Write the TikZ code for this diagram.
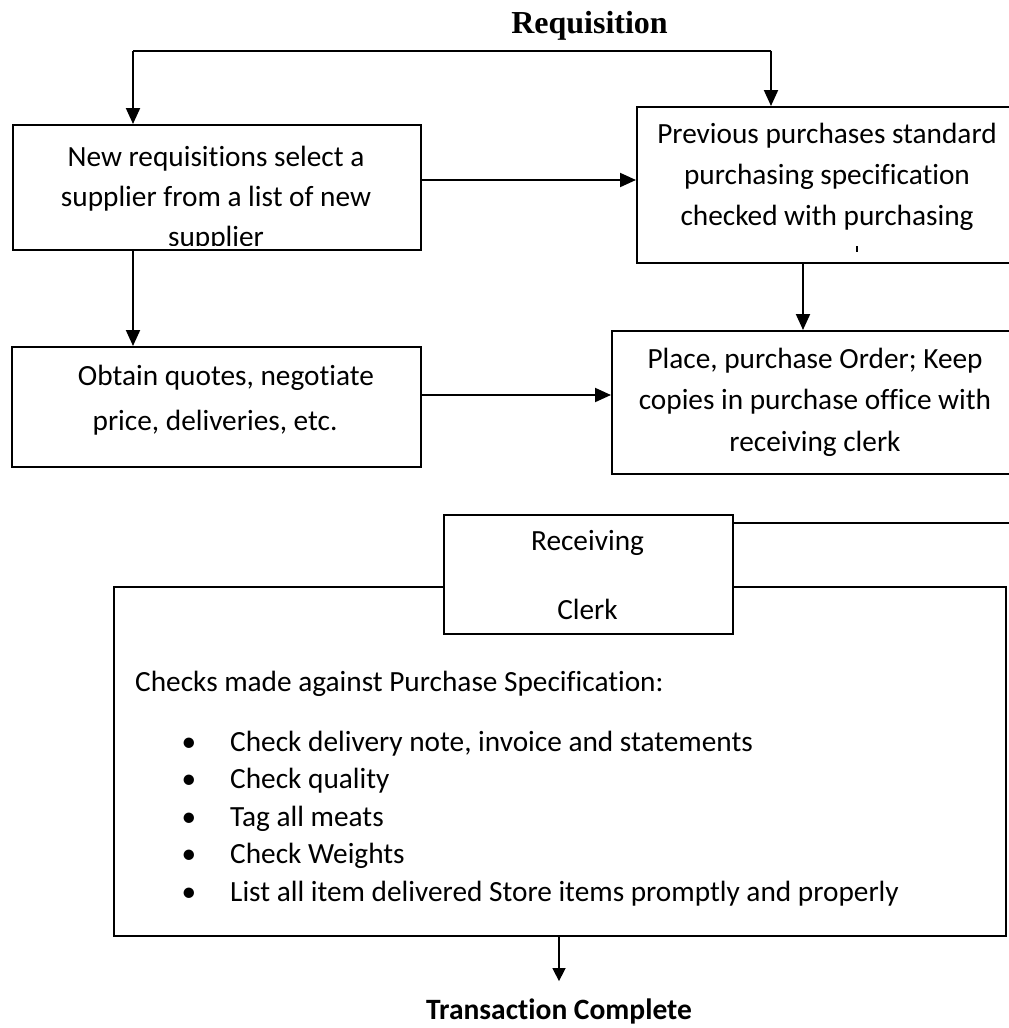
\documentclass[tikz,border=0pt]{standalone}
\usepackage{fontspec}
\setmainfont{Carlito}[Ligatures={TeX,NoCommon}]
\newfontfamily\titlefont{Liberation Serif}
\usetikzlibrary{arrows.meta,calc}
\begin{document}
\begin{tikzpicture}[x=1pt,y=-1pt,
  box/.style={draw,line width=2pt,anchor=north west,inner sep=0pt,fill=white},
  txt/.style={font=\fontsize{29.3}{35}\selectfont,anchor=base,inner sep=0pt},
  bld/.style={font=\bfseries\fontsize{29.5}{35}\selectfont,anchor=base,inner sep=0pt},
  arr/.style={line width=2pt,-{Triangle[width=14pt,length=16pt]}},
  ln/.style={line width=2pt}]
\useasboundingbox (0,0) rectangle (1009,1028);
\clip (0,0) rectangle (1009,1028);

% title and top split
\node[font=\titlefont\bfseries\fontsize{32}{38}\selectfont,anchor=base,inner sep=0pt] (title) at (589.5,33) {Requisition};
\coordinate (tl) at (133,50.5);
\coordinate (tr) at (771,50.5);

% boxes
\node[box,minimum width=408.5pt,minimum height=125pt] (b1) at (11.5,124) {};
\node[box,minimum width=383pt,minimum height=156pt] (b2) at (636,106) {};
\node[box,minimum width=409pt,minimum height=120pt] (b3) at (11,346) {};
\node[box,minimum width=408pt,minimum height=143pt] (b4) at (611,330) {};
\node[box,minimum width=892pt,minimum height=349pt] (big) at (113,586) {};
\node[box,line width=1.5pt,minimum width=289pt,minimum height=119pt] (rc) at (443,514) {};

% box texts
\begin{scope}
\clip (b1.north west) rectangle ([yshift=6pt]b1.south east);
\node[txt] (b1a) at (216,166) {New requisitions select a};
\node[txt] (b1b) at (216,206) {supplier from a list of new};
\node[txt] (b1c) at (216,246) {supplier};
\end{scope}

\node[txt] (b2a) at (827,143) {Previous purchases standard};
\node[txt] (b2b) at (827,184) {purchasing specification};
\node[txt] (b2c) at (827,225) {checked with purchasing};
\draw[line width=1.6pt] (857,246) -- (857,251.5);

\node[txt] (b3a) at (226,385) {Obtain quotes, negotiate};
\node[txt] (b3b) at (215,430) {price, deliveries, etc.};

\node[txt] (b4a) at (815,368) {Place, purchase Order; Keep};
\node[txt] (b4b) at (815,409) {copies in purchase office with};
\node[txt] (b4c) at (815,451) {receiving clerk};

\node[txt] (rca) at (587.5,550) {Receiving};
\node[txt] (rcb) at (587.5,619) {Clerk};

\node[txt,anchor=base west] (chk) at (135,691) {Checks made against Purchase Specification:};
\node[txt] (u1) at (189,751) {•};
\node[txt] (u2) at (189,788) {•};
\node[txt] (u3) at (189,826) {•};
\node[txt] (u4) at (189,863) {•};
\node[txt] (u5) at (189,901) {•};
\node[txt,anchor=base west] (i1) at (230,751) {Check delivery note, invoice and statements};
\node[txt,anchor=base west] (i2) at (230,788) {Check quality};
\node[txt,anchor=base west] (i3) at (230,826) {Tag all meats};
\node[txt,anchor=base west] (i4) at (230,863) {Check Weights};
\node[txt,anchor=base west] (i5) at (230,901) {List all item delivered Store items promptly and properly};

\node[bld] (tc) at (559,1019) {Transaction Complete};

% connectors
\draw[ln] (tl) -- (tr);
\draw[arr] (tl) -- (tl |- b1.north);
\draw[arr] (tr) -- (tr |- b2.north);
\draw[arr] ([yshift=7.5pt]b1.east) -- ([yshift=7.5pt]b1.east -| b2.west);
\draw[arr] (tl |- b1.south) -- (tl |- b3.north);
\draw[arr] ([yshift=12pt]b3.east) -- ([yshift=12pt]b3.east -| b4.west);
\coordinate (mx) at (803,0);
\draw[arr] (mx |- b2.south) -- (mx |- b4.north);
\coordinate (rcoff) at (1015,523);
\draw[ln] (rcoff -| rc.east) -- (rcoff);
\draw[line width=1.5pt,-{Triangle[width=13pt,length=13pt]}] (tc.north |- big.south) -- ([yshift=17pt]tc.north);
\end{tikzpicture}
\end{document}
